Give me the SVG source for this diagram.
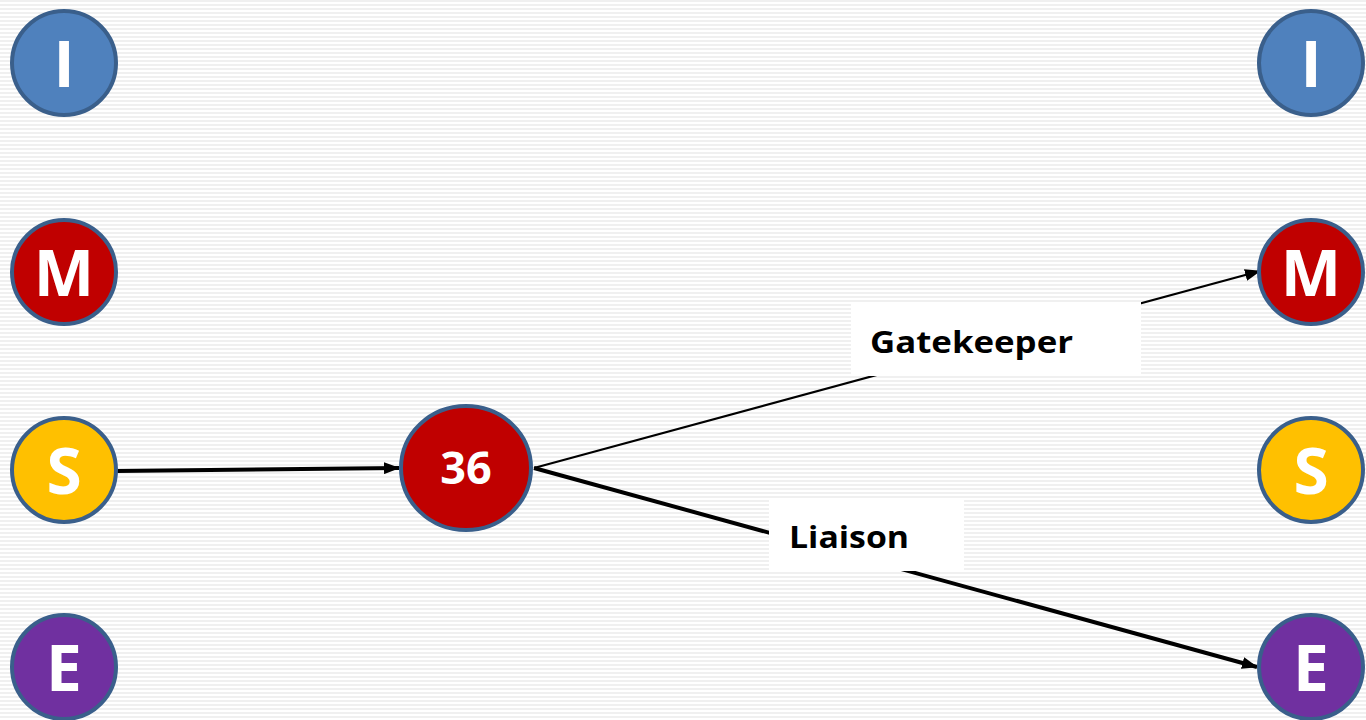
<svg xmlns="http://www.w3.org/2000/svg" width="1366" height="720" viewBox="0 0 1366 720">
  <defs>
    <pattern id="stripes" width="8" height="4" patternUnits="userSpaceOnUse">
      <rect width="8" height="4" fill="#ffffff"/>
      <rect y="0" width="8" height="2" fill="#f0f0f0"/>
    </pattern>
    <marker id="arrow" markerUnits="userSpaceOnUse" markerWidth="16" markerHeight="12" refX="15" refY="6" orient="auto">
      <path d="M0,0 L16,6 L0,12 Z" fill="#000"/>
    </marker>
    <style>
      .node { stroke: #3a5f8b; stroke-width: 4; }
      .blue { fill: #4f81bd; }
      .red { fill: #c00000; }
      .yellow { fill: #ffc000; }
      .purple { fill: #7030a0; }
      .letter { font-family: "Open Sans", "Liberation Sans", sans-serif; font-weight: bold; font-size: 64px; fill: #ffffff; text-anchor: middle; }
      .num { font-family: "Open Sans", "Liberation Sans", sans-serif; font-weight: bold; font-size: 45px; fill: #ffffff; text-anchor: middle; }
      .label { font-family: "Open Sans", "Liberation Sans", sans-serif; font-weight: bold; font-size: 31px; fill: #000000; }
      .link { stroke: #000; fill: none; }
    </style>
  </defs>

  <rect width="1366" height="720" fill="url(#stripes)"/>

  <!-- connectors -->
  <g id="connectors">
    <line class="link" x1="117" y1="471" x2="399" y2="468" stroke-width="4" marker-end="url(#arrow)"/>
    <line class="link" x1="534" y1="468" x2="1260" y2="271" stroke-width="2.2" marker-end="url(#arrow)"/>
    <line class="link" x1="534" y1="468" x2="1257" y2="667" stroke-width="4" marker-end="url(#arrow)"/>
  </g>

  <!-- edge labels -->
  <g id="label-gatekeeper">
    <rect x="851" y="302" width="290" height="74" fill="#ffffff"/>
    <text class="label" x="870" y="353" textLength="203" lengthAdjust="spacingAndGlyphs">Gatekeeper</text>
  </g>
  <g id="label-liaison">
    <rect x="769" y="499" width="195" height="72" fill="#ffffff"/>
    <text class="label" x="789" y="548" textLength="120" lengthAdjust="spacingAndGlyphs">Liaison</text>
  </g>

  <!-- left column -->
  <g id="left-I">
    <circle class="node blue" cx="64" cy="63" r="52"/>
    <text class="letter" x="64" y="87">I</text>
  </g>
  <g id="left-M">
    <circle class="node red" cx="64" cy="272" r="52"/>
    <text class="letter" x="64" y="296">M</text>
  </g>
  <g id="left-S">
    <circle class="node yellow" cx="64" cy="470" r="52"/>
    <text class="letter" x="64" y="494">S</text>
  </g>
  <g id="left-E">
    <circle class="node purple" cx="64" cy="667" r="52"/>
    <text class="letter" x="64" y="691">E</text>
  </g>

  <!-- centre -->
  <g id="center-36">
    <ellipse class="node red" cx="466" cy="468" rx="65" ry="62"/>
    <text class="num" x="466" y="484">36</text>
  </g>

  <!-- right column -->
  <g id="right-I">
    <circle class="node blue" cx="1311" cy="63" r="52"/>
    <text class="letter" x="1311" y="87">I</text>
  </g>
  <g id="right-M">
    <circle class="node red" cx="1311" cy="272" r="52"/>
    <text class="letter" x="1311" y="296">M</text>
  </g>
  <g id="right-S">
    <circle class="node yellow" cx="1311" cy="470" r="52"/>
    <text class="letter" x="1311" y="494">S</text>
  </g>
  <g id="right-E">
    <circle class="node purple" cx="1311" cy="667" r="52"/>
    <text class="letter" x="1311" y="691">E</text>
  </g>
</svg>
